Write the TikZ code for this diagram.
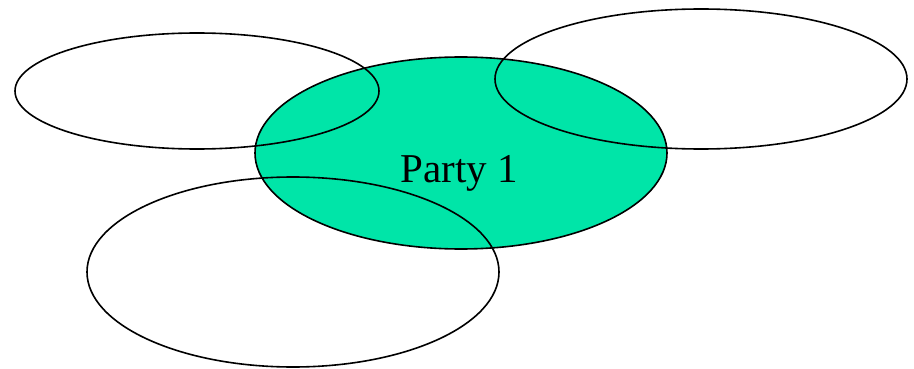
\documentclass[tikz,border=0pt]{standalone}
\usepackage{fontspec}
\setmainfont{Liberation Serif}
\usetikzlibrary{shapes.geometric}
\definecolor{partygreen}{HTML}{00E5A8}
\begin{document}
\begin{tikzpicture}[x=1pt,y=-1pt,
  party/.style={ellipse,draw=black,line width=1.6pt,inner sep=0pt,outer sep=0pt},
  label/.style={font=\fontsize{41}{41}\selectfont,anchor=base,inner sep=0pt}]
\useasboundingbox (0,0) rectangle (914,369);
\node[party,fill=partygreen,minimum width=412pt,minimum height=192pt] (p1) at (461,153) {};
\node[label] (t1) at (459,182) {Party 1};
\node[party,minimum width=364pt,minimum height=116pt] (p2) at (197,91) {};
\node[party,minimum width=412pt,minimum height=140pt] (p3) at (701,79) {};
\node[party,minimum width=412pt,minimum height=190pt] (p4) at (293,272) {};
\end{tikzpicture}
\end{document}
